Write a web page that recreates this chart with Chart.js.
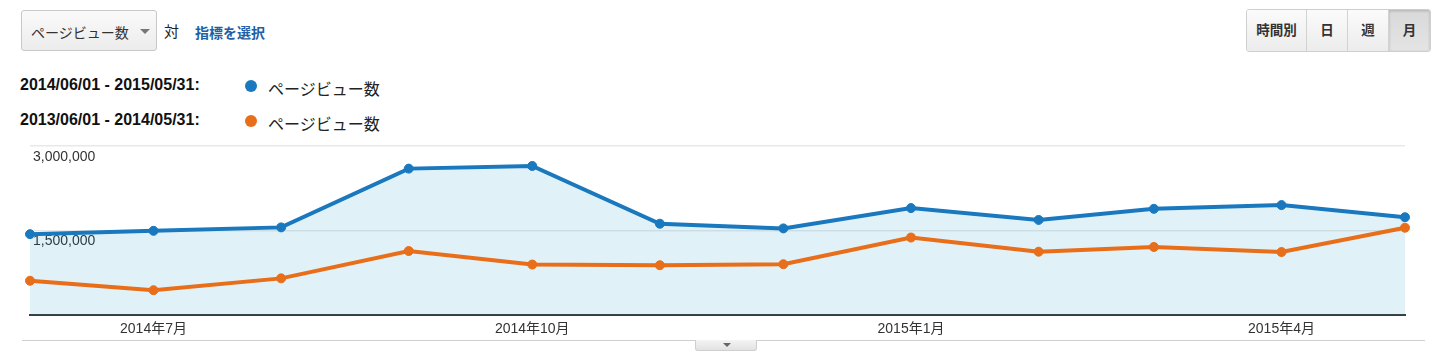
<!DOCTYPE html>
<html><head><meta charset="utf-8">
<script src="https://cdn.jsdelivr.net/npm/chart.js@4.4.1/dist/chart.umd.min.js"></script>
<style>
html,body{margin:0;padding:0;background:#fff;width:1446px;height:356px;overflow:hidden;font-family:"Liberation Sans","Noto Sans CJK JP",sans-serif;color:#222;}
.abs{position:absolute;}
.dd{left:21px;top:10px;width:136px;height:41px;border:1px solid #c8c8c8;border-radius:3px;background:linear-gradient(#fafafa,#ececec);box-sizing:border-box;}
.dd span{position:absolute;left:9px;top:11px;font-size:14px;color:#333;}
.dd i{position:absolute;left:118px;top:18px;width:0;height:0;border-left:5px solid transparent;border-right:5px solid transparent;border-top:5px solid #777;}
.vs{left:164px;top:20px;font-size:15px;color:#222;}
.link{left:195px;top:22px;font-size:14px;color:#1f5fa8;font-weight:bold;}
.lg{font-size:16px;font-weight:bold;color:#111;left:20px;}
.dot{width:12px;height:12px;border-radius:6px;}
.lt{font-size:16px;color:#222;left:268px;}
.btns{left:1246px;top:9px;height:43px;display:flex;border:1px solid #cfcfcf;border-radius:3px;overflow:hidden;box-sizing:border-box;}
.btns div{height:41px;line-height:41px;text-align:center;font-size:13.5px;font-weight:bold;color:#333;background:linear-gradient(#fbfbfb,#ececec);border-right:1px solid #d2d2d2;box-sizing:border-box;}
.btns div:last-child{border-right:none;background:linear-gradient(#d9d9d9,#e4e4e4);box-shadow:inset 0 1px 3px rgba(0,0,0,0.2);}
.sep{left:22px;top:340px;width:1403px;height:1px;background:#cfcfcf;}
.tab{left:695px;top:340px;width:62px;height:11px;border:1px solid #cfcfcf;border-top:none;border-radius:0 0 3px 3px;background:linear-gradient(#f4f4f4,#e2e2e2);box-sizing:border-box;}
.tab i{position:absolute;left:27px;top:3px;width:0;height:0;border-left:4px solid transparent;border-right:4px solid transparent;border-top:4px solid #666;}
#wrap{position:absolute;left:0;top:130px;width:1446px;height:215px;}
</style></head><body>
<div class="abs dd"><span>ページビュー数</span><i></i></div>
<div class="abs vs">対</div>
<div class="abs link">指標を選択</div>
<div class="abs lg" style="top:76px">2014/06/01 - 2015/05/31:</div>
<div class="abs lg" style="top:111px">2013/06/01 - 2014/05/31:</div>
<div class="abs dot" style="left:245px;top:80px;background:#1a78be"></div>
<div class="abs dot" style="left:245px;top:115px;background:#e86e1a"></div>
<div class="abs lt" style="top:76px">ページビュー数</div>
<div class="abs lt" style="top:111px">ページビュー数</div>
<div class="abs btns"><div style="width:60px">時間別</div><div style="width:41px">日</div><div style="width:41px">週</div><div style="width:41px">月</div></div>
<div id="wrap"><canvas id="c"></canvas></div>
<div class="abs sep"></div>
<div class="abs tab"><i></i></div>
<script>
const months = ['2014-06-01','2014-07-01','2014-08-01','2014-09-01','2014-10-01','2014-11-01','2014-12-01','2015-01-01','2015-02-01','2015-03-01','2015-04-01','2015-05-01'];
const currentViews = [1437000,1496000,1557000,2599000,2646000,1622000,1539000,1899000,1689000,1886000,1952000,1737000];
const previousViews = [611000,443000,653000,1138000,898000,886000,904000,1377000,1126000,1210000,1120000,1551000];
const xTickDates = ['2014-07-01','2014-10-01','2015-01-01','2015-04-01'];
const xTickLabels = ['2014年7月','2014年10月','2015年1月','2015年4月'];
const yTickValues = [0,1500000,3000000];
const seriesNames = ['ページビュー数','ページビュー数'];

const dayNum = s => { const [y,m,d] = s.split('-').map(Number); return Date.UTC(y,m-1,d)/86400000; };
const xs = months.map(dayNum);
const font = {family:'"Liberation Sans","Noto Sans CJK JP",sans-serif', size:14};

new Chart(document.getElementById('c'), {
  type:'line',
  data:{datasets:[
    {label:seriesNames[0], data:xs.map((x,i)=>({x, y:currentViews[i]})), borderColor:'#1a78be', backgroundColor:'rgba(5,141,199,0.12)', fill:'origin',
     borderWidth:4, pointRadius:4.5, pointBorderWidth:1, pointBackgroundColor:'#1a78be', pointBorderColor:'#1a78be', tension:0, order:2, clip:10},
    {label:seriesNames[1], data:xs.map((x,i)=>({x, y:previousViews[i]})), borderColor:'#e86e1a', backgroundColor:'#e86e1a', fill:false,
     borderWidth:4, pointRadius:4.5, pointBorderWidth:1, pointBackgroundColor:'#e86e1a', pointBorderColor:'#e86e1a', tension:0, order:1, clip:10}
  ]},
  options:{
    responsive:true, maintainAspectRatio:false, animation:false,
    layout:{padding:{left:30, right:41, top:16, bottom:1}},
    plugins:{legend:{display:false}, tooltip:{enabled:false}},
    scales:{
      x:{type:'linear', min:xs[0], max:xs[xs.length-1],
         afterBuildTicks: s => { s.ticks = xTickDates.map(d=>({value:dayNum(d)})); },
         ticks:{callback:(v)=>{ const i = xTickDates.map(dayNum).indexOf(v); return i>=0 ? xTickLabels[i] : ''; }, color:'#333', font, padding:6, maxRotation:0, autoSkip:false},
         grid:{display:false, drawTicks:false},
         border:{display:true, color:'#3c3c3c', width:2}},
      y:{min:0, max:3000000, z:1,
         afterBuildTicks: s => { s.ticks = yTickValues.map(v=>({value:v})); },
         afterFit: s => { s.width = 0; },
         ticks:{mirror:true, padding:3, labelOffset:11, color:'#333', font,
                textStrokeColor:'#fff', textStrokeWidth:3,
                callback:(v)=> v===0 ? '' : v.toLocaleString('en-US')},
         grid:{color:(c)=> c.tick && c.tick.value===0 ? 'rgba(0,0,0,0)' : 'rgba(0,0,0,0.09)', lineWidth:1.5, drawTicks:false},
         border:{display:false}}
    }
  }
});
</script>
</body></html>
